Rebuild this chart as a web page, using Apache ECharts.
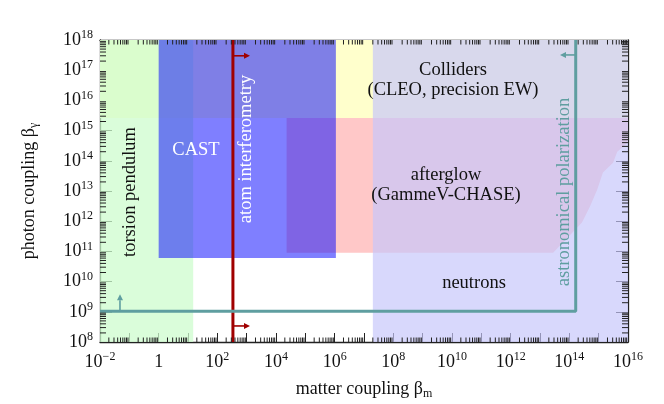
<!DOCTYPE html>
<html><head><meta charset="utf-8">
<script src="https://cdn.jsdelivr.net/npm/echarts@6/dist/echarts.min.js"></script>
<style>html,body{margin:0;padding:0;background:#fff}#c{width:664px;height:404px}</style>
</head><body><div id="c"></div>
<script>
// axis ranges
const xRange = [1e-2, 1e16];
const yRange = [1e8, 1e18];
// constraint regions (matter coupling x, photon coupling y)
const collidersX = [1e-2, 1e16];
const collidersY = [2.6e15, 1e18];
const torsionX = [1e-2, 15];
const torsionY = [1e8, 1e18];
const castX = [1, 1.1e6];
const castY = [6e10, 1e18];
const neutronsX = [2e7, 1e16];
const neutronsY = [1e8, 1e18];
const afterglowX = [2.3e4, 1e16, 1e16, 4.3e15, 3.1e15, 1.4e15, 8.9e14, 5.1e14, 2.7e14, 6.2e13, 2.8e13, 2.3e4];
const afterglowY = [2.6e15, 2.6e15, 4.0e14, 2.0e14, 8.7e13, 4.1e13, 1.1e13, 3.1e12, 9.1e11, 2.0e11, 9e10, 9e10];
// atom interferometry bound
const atomX = 340;
const atomArrowY = [3e17, 3.4e8];
const atomArrowTipX = 1.3e3;
// astronomical polarization bound
const astroX = [1e-2, 1.65e14, 1.65e14];
const astroY = [1.05e9, 1.05e9, 1e18];
const astroUpArrow = [[0.048, 1.05e9], [0.048, 3.8e9]];
const astroLeftArrow = [[1.65e14, 3.2e17], [4.8e13, 3.2e17]];

const FONT = 'Liberation Serif';
const chart = echarts.init(document.getElementById('c'));

function rectSeries(xs, ys, color, z) {
  return {
    type: 'custom', z: z, silent: true, clip: true,
    data: [[xs[0], ys[0], xs[1], ys[1]]],
    renderItem: function (params, api) {
      const p0 = api.coord([api.value(0), api.value(1)]);
      const p1 = api.coord([api.value(2), api.value(3)]);
      return { type: 'rect', shape: { x: Math.min(p0[0], p1[0]), y: Math.min(p0[1], p1[1]),
        width: Math.abs(p1[0] - p0[0]), height: Math.abs(p1[1] - p0[1]) }, style: { fill: color } };
    }
  };
}
function polySeries(xs, ys, color, z) {
  return {
    type: 'custom', z: z, silent: true, clip: true,
    data: xs.map((x, i) => [x, ys[i]]),
    renderItem: function (params, api) {
      if (params.dataIndex !== 0) return null;
      const pts = xs.map((x, i) => api.coord([x, ys[i]]));
      return { type: 'polygon', shape: { points: pts }, style: { fill: color } };
    }
  };
}
function arrowSeries(pairs, color, z) {
  return {
    type: 'custom', z: z, silent: true, clip: false,
    data: pairs.map(p => [p[0][0], p[0][1], p[1][0], p[1][1]]),
    renderItem: function (params, api) {
      const a = api.coord([api.value(0), api.value(1)]);
      const b = api.coord([api.value(2), api.value(3)]);
      const dx = b[0] - a[0], dy = b[1] - a[1];
      const L = Math.sqrt(dx * dx + dy * dy), ux = dx / L, uy = dy / L;
      const h = 6, w = 3;
      const base = [b[0] - ux * h, b[1] - uy * h];
      return { type: 'group', children: [
        { type: 'line', shape: { x1: a[0], y1: a[1], x2: base[0], y2: base[1] }, style: { stroke: color, lineWidth: 1.6 } },
        { type: 'polygon', shape: { points: [b, [base[0] - uy * w, base[1] + ux * w], [base[0] + uy * w, base[1] - ux * w]] }, style: { fill: color } }
      ] };
    }
  };
}
// minor tick values for log axes
function minorVals(lo, hi) {
  const out = [];
  for (let k = lo; k < hi; k++) for (let m = 2; m <= 9; m++) out.push(m * Math.pow(10, k));
  return out;
}
const xMinor = minorVals(-2, 16);
const yMinor = minorVals(8, 18);
function minorTickSeries(vals, isX, len) {
  return {
    type: 'custom', z: 20, silent: true, clip: false,
    data: vals.map(v => isX ? [v, yRange[0]] : [xRange[0], v]),
    renderItem: function (params, api) {
      const v = vals[params.dataIndex];
      const cs = params.coordSys;
      let lines;
      if (isX) {
        const x = api.coord([v, yRange[0]])[0];
        lines = [[x, cs.y + cs.height, x, cs.y + cs.height - len], [x, cs.y, x, cs.y + len]];
      } else {
        const y = api.coord([xRange[0], v])[1];
        lines = [[cs.x, y, cs.x + len, y], [cs.x + cs.width, y, cs.x + cs.width - len, y]];
      }
      return { type: 'group', children: lines.map(l => ({ type: 'line', shape: { x1: l[0], y1: l[1], x2: l[2], y2: l[3] }, style: { stroke: '#222', lineWidth: 1 } })) };
    }
  };
}
function expOf(v) { return Math.round(Math.log10(v)); }
function fmtExp(e) { return e === 0 ? '{b|1}' : '{b|10}{s|' + (e < 0 ? '\u2212' + (-e) : e) + '}'; }
const richLab = {
  b: { fontFamily: FONT, fontSize: 18, color: '#111', lineHeight: 22 },
  s: { fontFamily: FONT, fontSize: 12, color: '#111', lineHeight: 12, verticalAlign: 'top' }
};
const axisLine = { show: true, lineStyle: { color: '#222', width: 1.3 } };
const richName = {
  n: { fontFamily: FONT, fontSize: 18, color: '#111', lineHeight: 22 },
  u: { fontFamily: FONT, fontSize: 12, color: '#111', lineHeight: 12, verticalAlign: 'bottom' }
};
const LF = '18.5px "Liberation Serif"';

const option = {
  animation: false,
  backgroundColor: '#fff',
  grid: { left: 100, right: 36, top: 40, bottom: 62, containLabel: false, outerBoundsMode: 'none' },
  xAxis: [
    { type: 'log', logBase: 10, min: xRange[0], max: xRange[1], interval: 1, position: 'bottom',
      axisLine: axisLine, splitLine: { show: false },
      axisTick: { inside: true, length: 9, lineStyle: { color: '#222', width: 1 } },
      axisLabel: { margin: 9, rich: richLab, formatter: v => { const e = expOf(v); return e % 2 === 0 ? fmtExp(e) : ''; } },
      name: '{n|matter coupling \u03b2}{u|m}', nameLocation: 'middle', nameGap: 36, nameTextStyle: { rich: richName } },
    { type: 'log', logBase: 10, min: xRange[0], max: xRange[1], interval: 1, position: 'top',
      axisLine: axisLine, splitLine: { show: false }, axisLabel: { show: false },
      axisTick: { inside: true, length: 9, lineStyle: { color: '#222', width: 1 } } }
  ],
  yAxis: [
    { type: 'log', logBase: 10, min: yRange[0], max: yRange[1], interval: 1, position: 'left',
      axisLine: axisLine, splitLine: { show: false },
      axisTick: { inside: true, length: 12, lineStyle: { color: '#222', width: 1 } },
      axisLabel: { margin: 7, rich: richLab, formatter: v => fmtExp(expOf(v)) },
      name: '{n|photon coupling \u03b2}{u|\u03b3}', nameLocation: 'middle', nameGap: 60, nameRotate: 90, nameTextStyle: { rich: richName } },
    { type: 'log', logBase: 10, min: yRange[0], max: yRange[1], interval: 1, position: 'right',
      axisLine: axisLine, splitLine: { show: false }, axisLabel: { show: false },
      axisTick: { inside: true, length: 12, lineStyle: { color: '#222', width: 1 } } }
  ],
  series: [
    rectSeries(collidersX, collidersY, '#ffffcc', 1),
    rectSeries(torsionX, torsionY, 'rgba(205,252,205,0.75)', 2),
    polySeries(afterglowX, afterglowY, '#ffc8c8', 3),
    rectSeries(neutronsX, neutronsY, 'rgba(198,198,251,0.69)', 4),
    rectSeries(castX, castY, 'rgba(0,0,255,0.5)', 5),
    { type: 'line', z: 6, silent: true, symbol: 'none', data: [[atomX, yRange[0]], [atomX, yRange[1]]],
      lineStyle: { color: '#a00000', width: 3 } },
    arrowSeries(atomArrowY.map(y => [[atomX, y], [atomArrowTipX, y]]), '#a00000', 7),
    { type: 'line', z: 8, silent: true, symbol: 'none', data: astroX.map((x, i) => [x, astroY[i]]),
      lineStyle: { color: '#5f9ea0', width: 3 } },
    arrowSeries([astroUpArrow, astroLeftArrow], '#5f9ea0', 9),
    minorTickSeries(xMinor, true, 4.5),
    minorTickSeries(yMinor, false, 6)
  ],
  graphic: [
    { type: 'text', z: 50, x: 130, y: 192, rotation: Math.PI / 2, style: { text: 'torsion pendulum', font: LF, fill: '#111', align: 'center', verticalAlign: 'middle' } },
    { type: 'text', z: 50, x: 196, y: 150, style: { text: 'CAST', font: LF, fill: '#fff', align: 'center', verticalAlign: 'middle' } },
    { type: 'text', z: 50, x: 246, y: 149, rotation: Math.PI / 2, style: { text: 'atom interferometry', font: LF, fill: '#fff', align: 'center', verticalAlign: 'middle' } },
    { type: 'text', z: 50, x: 453, y: 80, style: { text: 'Colliders\n(CLEO, precision EW)', font: LF, lineHeight: 20, fill: '#111', align: 'center', verticalAlign: 'middle' } },
    { type: 'text', z: 50, x: 446, y: 185, style: { text: 'afterglow\n(GammeV-CHASE)', font: LF, lineHeight: 20, fill: '#111', align: 'center', verticalAlign: 'middle' } },
    { type: 'text', z: 50, x: 474, y: 283, style: { text: 'neutrons', font: LF, fill: '#111', align: 'center', verticalAlign: 'middle' } },
    { type: 'text', z: 50, x: 564, y: 192, rotation: Math.PI / 2, style: { text: 'astronomical polarization', font: LF, fill: '#5f9ea0', align: 'center', verticalAlign: 'middle' } }
  ]
};
chart.setOption(option);
</script></body></html>
